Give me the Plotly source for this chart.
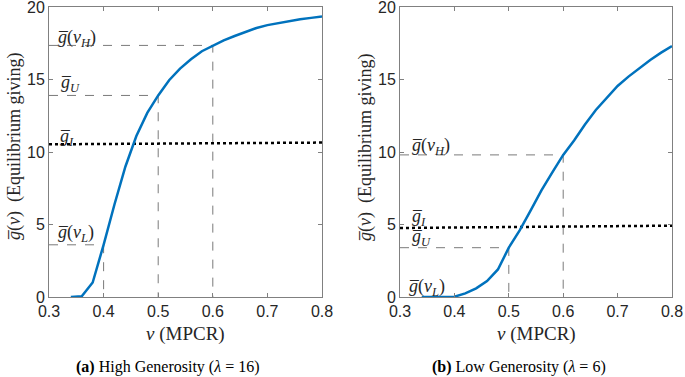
import plotly.graph_objects as go

v = [0.34, 0.36, 0.38, 0.40, 0.42, 0.44, 0.46, 0.48, 0.50, 0.52, 0.54, 0.56, 0.58, 0.60,
     0.62, 0.64, 0.66, 0.68, 0.70, 0.72, 0.74, 0.76, 0.78, 0.80]
g_high = [0.0, 0.05, 1.0, 3.6, 6.4, 9.0, 11.1, 12.7, 13.9, 14.95, 15.75, 16.4, 16.95, 17.35,
          17.7, 18.0, 18.3, 18.55, 18.75, 18.9, 19.05, 19.15, 19.25, 19.35]
g_low = [0.0, 0.0, 0.0, 0.02, 0.25, 0.6, 1.1, 1.9, 3.4, 4.6, 5.95, 7.35, 8.6, 9.8,
         10.8, 11.9, 12.9, 13.75, 14.55, 15.2, 15.8, 16.35, 16.85, 17.3]

gI_high = [10.53, 10.65]
gI_low = [4.76, 4.92]
vL, vU, vH = 0.4, 0.5, 0.6
marks_high = {"L": 3.6, "U": 13.9, "H": 17.35}
marks_low = {"L": 0.0, "U": 3.4, "H": 9.8}

x_ticks = [0.3, 0.4, 0.5, 0.6, 0.7, 0.8]
y_ticks = [0, 5, 10, 15, 20]

GB = "g\u0305"
BLUE = "#0072BD"
GRAY = "#808080"
SERIF = "Liberation Serif"
SANS = "Liberation Sans"

fig = go.Figure()

panels = [
    ("x", "y", g_high, gI_high, marks_high),
    ("x2", "y2", g_low, gI_low, marks_low),
]
for xa, ya, g, gI, mk in panels:
    for vv, key in [(vL, "L"), (vU, "U"), (vH, "H")]:
        gv = mk[key]
        if gv <= 0:
            continue
        fig.add_trace(go.Scatter(x=[0.3, vv, vv], y=[gv, gv, 0], mode="lines",
                                 line=dict(color="#7a7a7a", width=1, dash="dash"),
                                 xaxis=xa, yaxis=ya, showlegend=False, hoverinfo="skip"))
    fig.add_trace(go.Scatter(x=[0.3, 0.8], y=gI, mode="lines",
                             line=dict(color="black", width=2.5, dash="dot"),
                             xaxis=xa, yaxis=ya, showlegend=False))
    fig.add_trace(go.Scatter(x=v, y=g, mode="lines", line=dict(color=BLUE, width=2.5),
                             xaxis=xa, yaxis=ya, showlegend=False))

ax_common = dict(showgrid=False, zeroline=False, showline=True, linecolor=GRAY, linewidth=1,
                 mirror="ticks", ticks="inside", ticklen=4, tickcolor=GRAY,
                 automargin=False, ticklabeloverflow="allow",
                 tickfont=dict(family=SANS, size=16, color="#262626"))
ydom = [(377 - 297) / 377, (377 - 7) / 377]
fig.update_layout(
    width=685, height=377, margin=dict(l=0, r=0, t=0, b=0, autoexpand=False),
    plot_bgcolor="white", paper_bgcolor="white",
    xaxis=dict(domain=[49 / 685, 322 / 685], range=[0.3, 0.8], tickvals=x_ticks,
               ticktext=[f"{t:.1f}" for t in x_ticks], **ax_common),
    yaxis=dict(domain=ydom, range=[0, 20], tickvals=y_ticks, **ax_common),
    xaxis2=dict(domain=[400 / 685, 672 / 685], range=[0.3, 0.8], tickvals=x_ticks,
                ticktext=[f"{t:.1f}" for t in x_ticks], anchor="y2", **ax_common),
    yaxis2=dict(domain=ydom, range=[0, 20], tickvals=y_ticks, anchor="x2", **ax_common),
)

anns = []
def lab(xa, ya, x, y, text, size=18):
    anns.append(dict(xref=xa, yref=ya, x=x, y=y, text=text, showarrow=False,
                     xanchor="left", yanchor="middle",
                     font=dict(family=SERIF, size=size, color="#262626")))

lab("x", "y", 0.313, 17.8, f"<i>{GB}</i>(<i>v</i><sub><i>H</i></sub>)")
lab("x", "y", 0.318, 14.7, f"<i>{GB}</i><sub><i>U</i></sub>")
lab("x", "y", 0.316, 11.0, f"<i>{GB}</i><sub><i>I</i></sub>")
lab("x", "y", 0.313, 4.4, f"<i>{GB}</i>(<i>v</i><sub><i>L</i></sub>)")
lab("x2", "y2", 0.318, 10.4, f"<i>{GB}</i>(<i>v</i><sub><i>H</i></sub>)")
lab("x2", "y2", 0.318, 5.5, f"<i>{GB}</i><sub><i>I</i></sub>")
lab("x2", "y2", 0.318, 4.1, f"<i>{GB}</i><sub><i>U</i></sub>")
lab("x2", "y2", 0.312, 0.65, f"<i>{GB}</i>(<i>v</i><sub><i>L</i></sub>)")

for cx in [185.5 / 685, 536 / 685]:
    anns.append(dict(xref="paper", yref="paper", x=cx, y=(377 - 334) / 377,
                     text="<i>v</i> (MPCR)", showarrow=False, xanchor="center", yanchor="middle",
                     font=dict(family=SERIF, size=19, color="#262626")))
for cx in [15 / 685, 366 / 685]:
    anns.append(dict(xref="paper", yref="paper", x=cx, y=(377 - 147) / 377, textangle=-90,
                     text=f"<i>{GB}</i>(<i>v</i>)  (Equilibrium giving)", showarrow=False,
                     xanchor="center", yanchor="middle",
                     font=dict(family=SERIF, size=18, color="#262626")))

anns.append(dict(xref="paper", yref="paper", x=167 / 685, y=(377 - 367) / 377,
                 text="<b>(a)</b> High Generosity (<i>λ</i> = 16)", showarrow=False,
                 xanchor="center", yanchor="middle", font=dict(family=SERIF, size=16, color="black")))
anns.append(dict(xref="paper", yref="paper", x=519 / 685, y=(377 - 367) / 377,
                 text="<b>(b)</b> Low Generosity (<i>λ</i> = 6)", showarrow=False,
                 xanchor="center", yanchor="middle", font=dict(family=SERIF, size=16, color="black")))

fig.update_layout(annotations=anns)
fig.write_html("out.html", config={"displayModeBar": False},
               post_script="document.body.style.margin='0';document.body.style.overflow='hidden';")
